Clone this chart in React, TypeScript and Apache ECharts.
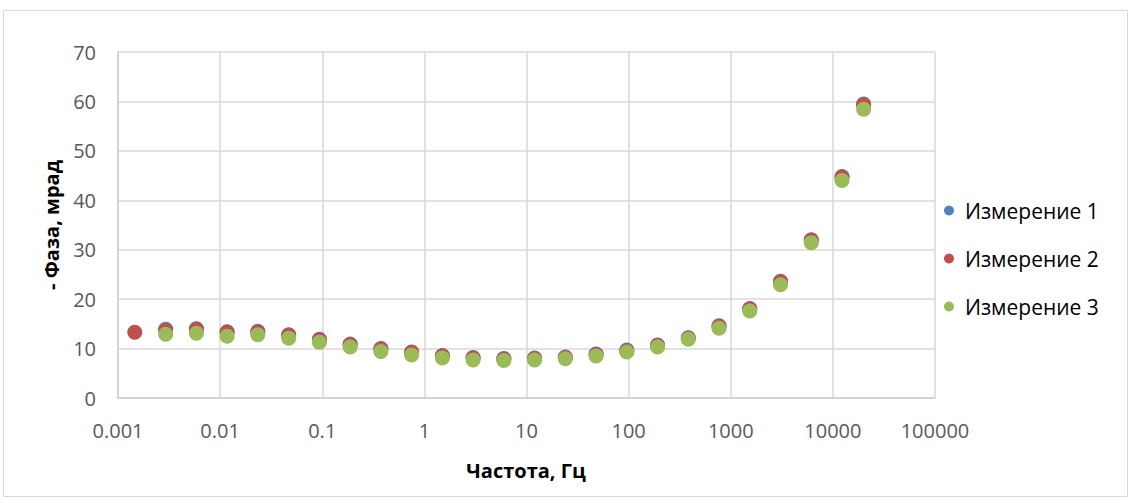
import React, { useEffect, useRef } from "react";
import * as echarts from "echarts";

const frequencies = [
  0.00146, 0.00293, 0.00586, 0.0117, 0.0234, 0.0469, 0.0938, 0.1875, 0.375, 0.75,
  1.5, 3, 6, 12, 24, 48, 96, 192, 384, 768, 1536, 3072, 6144, 12288, 20000,
];
const seriesNames = ["Измерение 1", "Измерение 2", "Измерение 3"];
const measurement1 = [
  null, 13.9, 14.0, 13.4, 13.5, 12.8, 11.9, 10.9, 10.0, 9.3, 8.6, 8.2, 8.0, 8.1, 8.3,
  8.9, 9.7, 10.7, 12.2, 14.6, 18.1, 23.6, 32.0, 44.8, 59.5,
];
const measurement2 = [
  13.3, 13.7, 13.9, 13.3, 13.3, 12.7, 11.8, 10.8, 9.9, 9.2, 8.5, 8.1, 7.9, 8.0, 8.2,
  8.8, 9.5, 10.6, 12.1, 14.5, 18.0, 23.5, 31.9, 44.7, 59.4,
];
const measurement3 = [
  null, 12.9, 13.1, 12.5, 12.8, 12.1, 11.3, 10.3, 9.4, 8.7, 8.1, 7.7, 7.6, 7.7, 7.95,
  8.5, 9.3, 10.3, 11.9, 14.1, 17.6, 22.9, 31.4, 44.0, 58.4,
];
const colors = ["#4F81BD", "#C0504D", "#9BBB59"];
const xTitle = "Частота, Гц";
const yTitle = "- Фаза, мрад";

const FONT = "'Open Sans', 'DejaVu Sans', sans-serif";

function pairs(vals: (number | null)[]) {
  const out: [number, number][] = [];
  vals.forEach((v, i) => {
    if (v !== null) out.push([frequencies[i], v]);
  });
  return out;
}

export default function App() {
  const ref = useRef<HTMLDivElement>(null);
  useEffect(() => {
    document.body.style.margin = "0";
    const chart = echarts.init(ref.current!, null, { renderer: "svg" });
    const all = [measurement1, measurement2, measurement3];
    chart.setOption({
      animation: false,
      backgroundColor: "#ffffff",
      color: colors,
      grid: { left: 118, right: 197, top: 52, bottom: 101, containLabel: false },
      xAxis: {
        type: "log",
        logBase: 10,
        min: 0.001,
        max: 100000,
        axisLine: { show: true, lineStyle: { color: "#d0d0d0", width: 1.5 } },
        axisTick: { show: false },
        splitLine: { show: true, lineStyle: { color: "#d9d9d9", width: 1.5 } },
        minorTick: { show: false },
        axisLabel: {
          margin: 22,
          color: "#595959",
          fontSize: 20,
          fontFamily: FONT,
          formatter: (v: number) => {
            const e = Math.round(Math.log10(v));
            return e < 0 ? Math.pow(10, e).toFixed(-e) : String(Math.pow(10, e));
          },
        },
      },
      yAxis: {
        type: "value",
        min: 0,
        max: 70,
        interval: 10,
        axisLine: { show: true, lineStyle: { color: "#d0d0d0", width: 1.5 } },
        axisTick: { show: false },
        splitLine: { show: true, lineStyle: { color: "#d9d9d9", width: 1.5 } },
        axisLabel: { margin: 22, color: "#595959", fontSize: 20, fontFamily: FONT },
      },
      legend: {
        orient: "vertical",
        left: 939,
        top: 195,
        itemWidth: 22,
        itemHeight: 10,
        itemGap: 27,
        icon: "circle",
        data: seriesNames,
        textStyle: { fontSize: 21, color: "#000000", fontFamily: FONT },
      },
      graphic: [
        {
          type: "rect",
          shape: { x: 3.5, y: 10.5, width: 1124, height: 486 },
          style: { fill: "none", stroke: "#d9d9d9", lineWidth: 1 },
          silent: true,
        },
        {
          type: "text",
          x: 526,
          y: 470,
          style: {
            text: xTitle,
            fontSize: 20,
            fontWeight: "bold",
            fontFamily: FONT,
            fill: "#000000",
            align: "center",
            verticalAlign: "middle",
          },
        },
        {
          type: "text",
          x: 51,
          y: 225,
          rotation: Math.PI / 2,
          style: {
            text: yTitle,
            fontSize: 20,
            fontWeight: "bold",
            fontFamily: FONT,
            fill: "#000000",
            align: "center",
            verticalAlign: "middle",
          },
        },
      ],
      series: all.map((vals, i) => ({
        name: seriesNames[i],
        type: "scatter",
        symbol: "circle",
        symbolSize: 15,
        itemStyle: { color: colors[i], opacity: 1 },
        data: pairs(vals),
        z: 2 + i,
      })),
    });
    return () => chart.dispose();
  }, []);
  return <div ref={ref} style={{ width: 1132, height: 499 }} />;
}
